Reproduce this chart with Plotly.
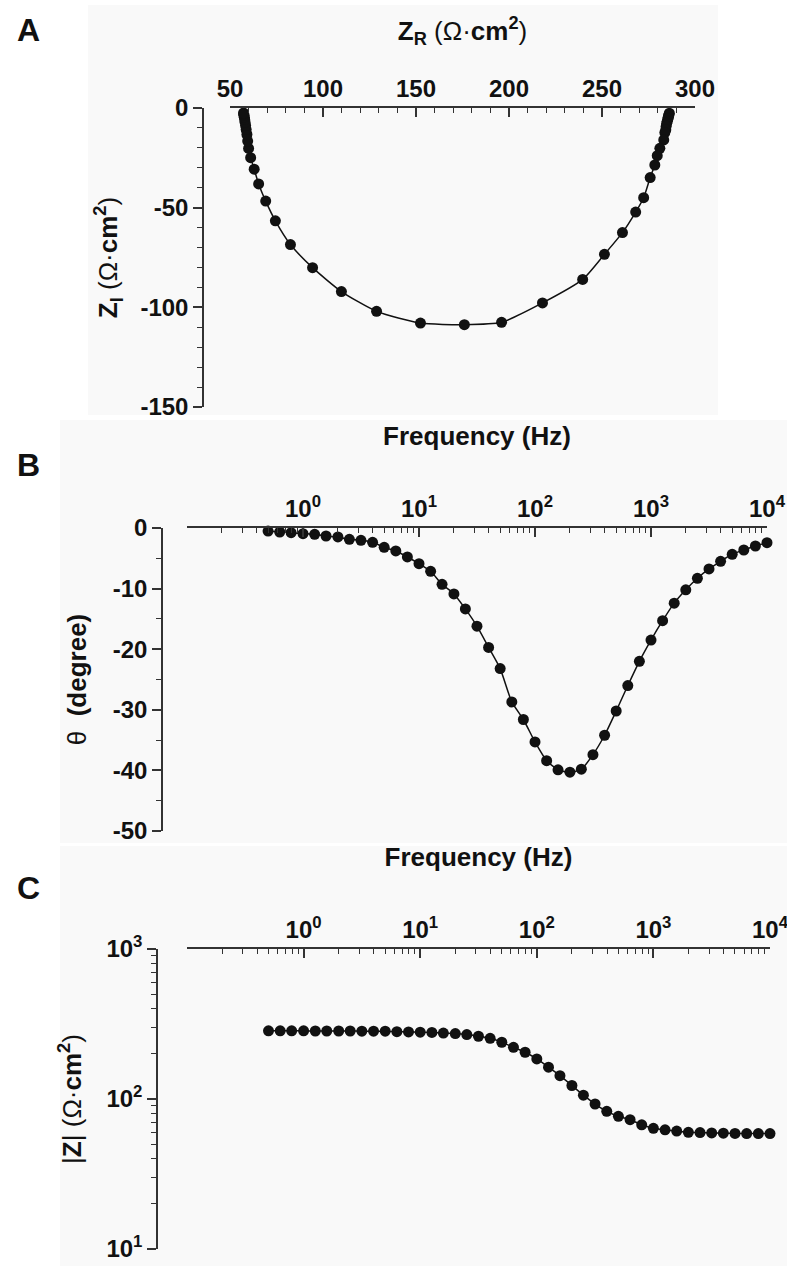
import plotly.graph_objects as go

# ---------------- impedance spectrum (44 frequencies, 0.5 Hz – 10 kHz) ----------------
freq_hz = [0.5, 0.63, 0.79, 1.0, 1.26, 1.58, 2.0, 2.51, 3.16, 3.98,
           5.01, 6.31, 7.94, 10.0, 12.6, 15.8, 20.0, 25.1, 31.6, 39.8,
           50.1, 63.1, 79.4, 100, 126, 158, 200, 251, 316, 398,
           501, 631, 794, 1000, 1259, 1585, 1995, 2512, 3162, 3981,
           5012, 6310, 7943, 10000]

phase_deg = [-0.5, -0.66, -0.77, -0.93, -1.04, -1.32, -1.48, -1.87, -2.03, -2.36,
             -3.19, -3.79, -4.78, -5.88, -7.14, -9.29, -10.88, -13.35, -16.2, -19.7,
             -23.2, -28.7, -31.6, -35.3, -38.4, -39.9, -40.3, -39.8, -37.4, -34.2,
             -30.2, -26.0, -22.0, -18.5, -15.3, -12.4, -10.2, -8.3, -6.76, -5.49,
             -4.34, -3.63, -2.97, -2.42]

z_mod = [285, 285, 285, 285, 284, 284, 284, 284, 283, 283,
         283, 281, 280, 279, 278, 275, 273, 269, 262, 254,
         239, 221, 205, 185, 163, 143, 123, 106, 92.6, 82.8,
         76.7, 72.8, 67.3, 63.8, 62.3, 61.1, 60.0, 59.7, 59.4, 59.2,
         58.9, 58.8, 58.8, 58.8]

z_real = [286.2, 286.0, 285.8, 285.6, 285.4, 285.1, 284.8, 284.5, 284.3, 283.8,
          283.2, 281.1, 279.7, 278.4, 275.9, 272.4, 268.1, 261.0, 251.3, 239.6,
          218.0, 196.0, 176.0, 152.4, 128.8, 109.9, 94.4, 82.5, 74.4, 69.2,
          65.4, 63.0, 61.1, 60.0, 59.5, 59.1, 58.7, 58.4, 58.1, 57.9,
          57.7, 57.5, 57.4, 57.3]

z_imag = [-2.6, -3.4, -4.0, -4.8, -5.5, -6.7, -7.6, -9.2, -10.9, -12.3,
          -16.0, -20.2, -23.9, -28.6, -34.9, -45.0, -52.2, -62.5, -73.4, -86.0,
          -97.8, -107.5, -108.7, -107.9, -102.0, -92.1, -80.1, -68.5, -56.6, -46.7,
          -38.1, -30.7, -24.9, -20.3, -16.6, -13.3, -10.8, -8.8, -7.1, -5.8,
          -4.6, -3.7, -3.0, -2.5]

# ---------------- tick labels ----------------
z_real_ticks = [50, 100, 150, 200, 250, 300]
z_imag_ticks = [0, -50, -100, -150]
z_imag_ticktext = ["0", "-50", "-100", "-150"]
phase_ticks = [0, -10, -20, -30, -40, -50]
phase_ticktext = ["0", "-10", "-20", "-30", "-40", "-50"]
freq_ticks = [1, 10, 100, 1000, 10000]
freq_ticktext = ["10<sup>0</sup>", "10<sup>1</sup>", "10<sup>2</sup>", "10<sup>3</sup>", "10<sup>4</sup>"]
mod_ticks = [10, 100, 1000]
mod_ticktext = ["10<sup>1</sup>", "10<sup>2</sup>", "10<sup>3</sup>"]

freq_minor = [m * 10 ** e for e in range(-1, 4) for m in range(2, 10)]
mod_minor = [m * 10 ** e for e in (1, 2) for m in range(2, 10)]

# ---------------- page geometry (pixels -> paper fractions) ----------------
W, H = 787, 1266


def fx(px):
    return px / W


def fy(py):
    return 1 - py / H


FONT = "Liberation Sans, Arial, sans-serif"
INK = "#111111"
AXIS = "#333333"
PANEL_BG = "#f9f9f9"

tick_font = dict(family=FONT, size=24, color=INK, weight="bold")
title_font = dict(family=FONT, size=26, color=INK)

marker = dict(size=11, color="#111111")
line = dict(color="#111111", width=1.5, shape="spline", smoothing=0.6)

fig = go.Figure()

# A: Nyquist plot
fig.add_trace(go.Scatter(x=z_real, y=z_imag, mode="lines+markers", marker=marker,
                         line=line, xaxis="x", yaxis="y", cliponaxis=False,
                         showlegend=False))
# B: Bode phase
fig.add_trace(go.Scatter(x=freq_hz, y=phase_deg, mode="lines+markers", marker=marker,
                         line=line, xaxis="x2", yaxis="y2", cliponaxis=False,
                         showlegend=False))
# C: Bode modulus
fig.add_trace(go.Scatter(x=freq_hz, y=z_mod, mode="lines+markers", marker=marker,
                         line=line, xaxis="x3", yaxis="y3", cliponaxis=False,
                         showlegend=False))

common = dict(showline=True, linecolor=AXIS, linewidth=1.5, showgrid=False,
              zeroline=False, tickcolor=AXIS, tickwidth=1.5, tickfont=tick_font,
              automargin=False)


def top_axis(**kw):
    d = dict(common)
    d.update(side="top", ticks="inside", ticklen=9, ticklabeloverflow="allow")
    d.update(kw)
    return d


def left_axis(**kw):
    d = dict(common)
    d.update(ticks="outside", ticklen=9, anchor="free")
    d.update(kw)
    return d


fig.update_layout(
    width=W, height=H,
    margin=dict(l=0, r=0, t=0, b=0),
    paper_bgcolor="white",
    plot_bgcolor="rgba(0,0,0,0)",
    showlegend=False,
    xaxis=top_axis(
        domain=[fx(230), fx(695)], range=[50, 300], anchor="y",
        tickmode="array", tickvals=z_real_ticks,
        minor=dict(dtick=10, tick0=50, ticks="inside", ticklen=5, tickcolor=AXIS, tickwidth=1.3),
        title=dict(text="<b>Z<sub>R</sub> </b>(Ω·<b>cm<sup>2</sup></b>)", font=title_font, standoff=27),
    ),
    yaxis=left_axis(
        domain=[fy(407), fy(108)], range=[-150, 0], position=fx(203),
        tickmode="array", tickvals=z_imag_ticks, ticktext=z_imag_ticktext,
        minor=dict(dtick=10, tick0=0, ticks="outside", ticklen=5, tickcolor=AXIS, tickwidth=1.3),
        title=dict(text="<b>Z<sub>I</sub> </b>(Ω·<b>cm<sup>2</sup></b>)", font=title_font, standoff=14),
    ),
    xaxis2=top_axis(
        type="log", domain=[fx(187), fx(767)], range=[-1, 4], anchor="y2",
        tickmode="array", tickvals=freq_ticks, ticktext=freq_ticktext,
        minor=dict(tickmode="array", tickvals=freq_minor, ticks="inside", ticklen=5,
                   tickcolor=AXIS, tickwidth=1.3),
        title=dict(text="<b>Frequency (Hz)</b>", font=title_font, standoff=38),
    ),
    yaxis2=left_axis(
        domain=[fy(831), fy(528)], range=[-50, 0], position=fx(162),
        tickmode="array", tickvals=phase_ticks, ticktext=phase_ticktext,
        minor=dict(dtick=5, tick0=0, ticks="outside", ticklen=5, tickcolor=AXIS, tickwidth=1.3),
        title=dict(text="θ  <b>(degree)</b>", font=title_font, standoff=18),
    ),
    xaxis3=top_axis(
        type="log", domain=[fx(187), fx(770)], range=[-1, 4], anchor="y3",
        tickmode="array", tickvals=freq_ticks, ticktext=freq_ticktext,
        minor=dict(tickmode="array", tickvals=freq_minor, ticks="inside", ticklen=5,
                   tickcolor=AXIS, tickwidth=1.3),
        title=dict(text="<b>Frequency (Hz)</b>", font=title_font, standoff=38),
    ),
    yaxis3=left_axis(
        type="log", domain=[fy(1249), fy(949)], range=[1, 3], position=fx(157),
        tickmode="array", tickvals=mod_ticks, ticktext=mod_ticktext,
        minor=dict(tickmode="array", tickvals=mod_minor, ticks="outside", ticklen=5,
                   tickcolor=AXIS, tickwidth=1.3),
        title=dict(text="|<b>Z</b>| (Ω·<b>cm<sup>2</sup></b>)", font=title_font, standoff=16),
    ),
)

# faint panel backgrounds
for x0, y0, x1, y1 in [(88, 5, 718, 415), (60, 420, 787, 843), (60, 846, 787, 1266)]:
    fig.add_shape(type="rect", xref="paper", yref="paper",
                  x0=fx(x0), x1=fx(x1), y0=fy(y1), y1=fy(y0),
                  fillcolor=PANEL_BG, line=dict(width=0), layer="below")

# panel letters
for letter, px, py in [("A", 28, 30), ("B", 28, 465), ("C", 28, 888)]:
    fig.add_annotation(text=f"<b>{letter}</b>", xref="paper", yref="paper",
                       x=fx(px), y=fy(py), showarrow=False,
                       font=dict(family=FONT, size=32, color=INK),
                       xanchor="center", yanchor="middle")

fig.write_html("out.html")
